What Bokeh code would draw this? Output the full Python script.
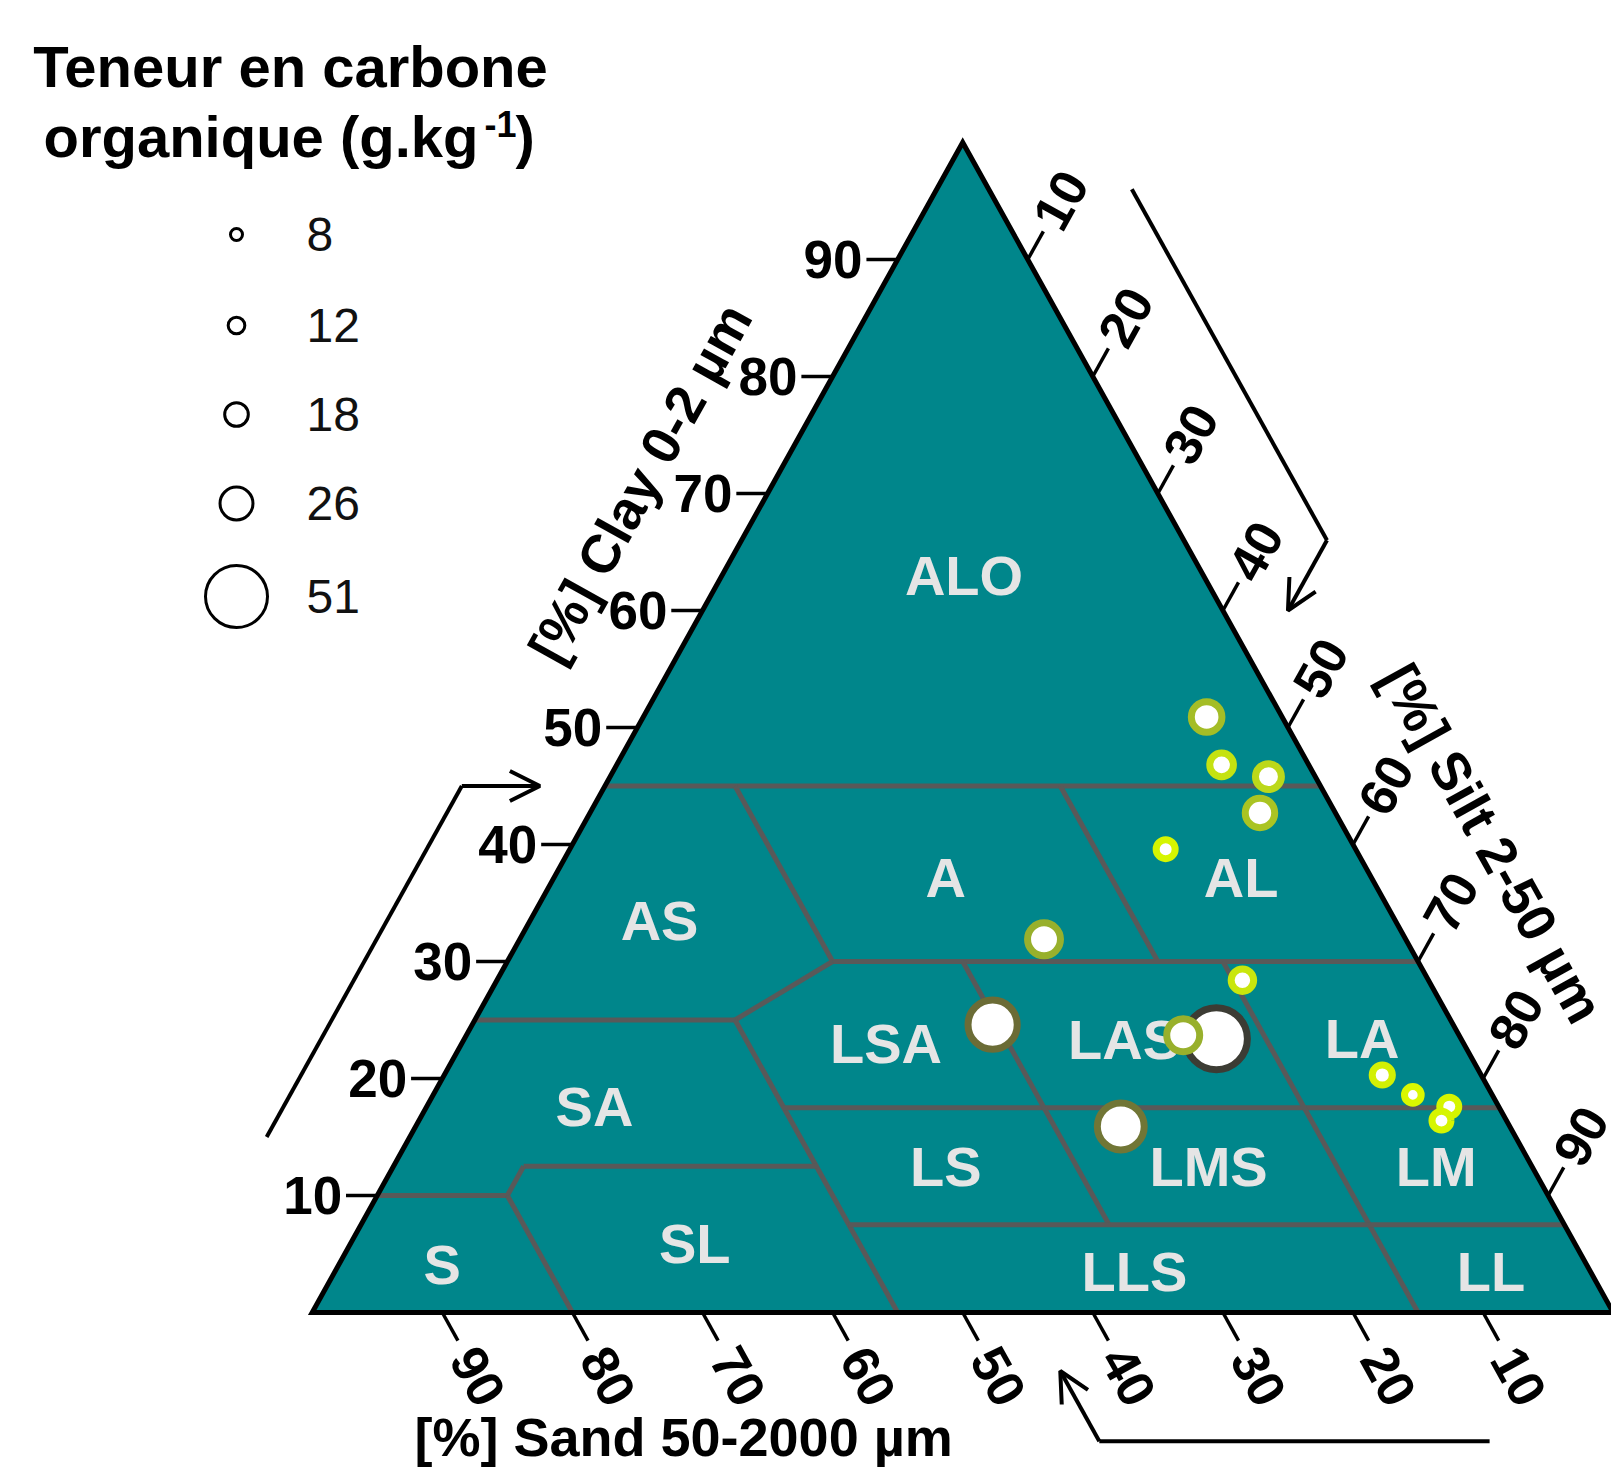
import math
from bokeh.plotting import figure
from bokeh.models import Range1d, ColumnDataSource, Arrow, OpenHead, LinearColorMapper
from bokeh.transform import transform
from bokeh.core.properties import value
from bokeh.embed import file_html
from bokeh.resources import INLINE

# ---- samples: particle-size fractions (%) and organic carbon (g/kg) ----
clay = [50.9, 46.8, 45.8, 42.7, 39.6, 31.9, 28.4, 24.6, 23.4, 23.7, 15.9, 20.3, 18.6, 17.6, 16.4]
silt = [43.3, 46.5, 50.6, 51.5, 45.8, 40.3, 57.3, 40.0, 57.8, 55.1, 54.2, 72.1, 75.3, 78.6, 78.6]
sand = [5.8, 6.7, 3.6, 5.8, 14.6, 27.8, 14.3, 35.4, 18.8, 21.2, 29.9, 7.6, 6.1, 3.8, 5.0]
carbon = [24, 18, 20, 23, 14, 26, 17, 40, 51, 26, 38, 15, 12, 14, 14]

legend_values = [8, 12, 18, 26, 51]
tick_values = [10, 20, 30, 40, 50, 60, 70, 80, 90]

# ---- Aisne texture classes: boundary segments as (clay, sand) end points ----
class_segments = [
    ((45, 55), (45, 0)),
    ((45, 45), (30, 45)),
    ((45, 20), (30, 20)),
    ((30, 45), (30, 0)),
    ((30, 45), (25, 55)),
    ((25, 75), (25, 55)),
    ((25, 55), (0, 55)),
    ((17.5, 55), (17.5, 0)),
    ((30, 35), (7.5, 35)),
    ((30, 15), (0, 15)),
    ((12.5, 77.5), (12.5, 55)),
    ((10, 80), (12.5, 77.5)),
    ((10, 90), (10, 80)),
    ((10, 80), (0, 80)),
    ((7.5, 55), (7.5, 0)),
]
class_names = ["ALO", "A", "AL", "AS", "LSA", "LAS", "LA", "SA", "LS", "LMS", "LM", "S", "SL", "LLS", "LL"]
# label anchors as (clay, silt)
class_anchor = [(63.0, 18.6), (37.2, 30.1), (37.2, 52.8), (33.5, 9.95), (23.0, 32.6),
                (23.3, 50.75), (23.4, 69.0), (17.6, 12.9), (12.5, 42.45), (12.5, 62.65),
                (12.5, 80.15), (4.1, 7.95), (5.9, 26.45), (3.5, 61.45), (3.5, 88.85)]

# ---- canvas geometry ----
W, H = 1611, 1472
X0_PX, Y0_PX = 311.7, 1312.0     # screen position of the 100 % sand corner
SX, SY = 13.01, 11.70            # pixels per unit along X and Y


def px_x(px):
    return (px - X0_PX) / SX


def px_y(py):
    return (Y0_PX - py) / SY


def tern(c, s):
    """(clay, silt) -> plot coordinates"""
    return s + c / 2.0, c


def tern_cs(c, sa):
    """(clay, sand) -> plot coordinates"""
    return tern(c, 100.0 - c - sa)


ANG = math.atan2(SY, SX * 0.5)    # slope of the triangle sides on screen
FONT = value("Liberation Sans")

p = figure(width=W, height=H, x_range=Range1d(px_x(0), px_x(W)),
           y_range=Range1d(px_y(H), px_y(0)), output_backend="svg",
           toolbar_location=None, min_border=0, outline_line_color=None)
p.axis.visible = False
p.grid.visible = False
p.background_fill_color = "white"
p.border_fill_color = "white"

# triangle body
p.patch([0, 100, 50], [0, 0, 100], fill_color="#00868B", line_color=None)

# class boundaries
xs, ys = [], []
for a, b in class_segments:
    xa, ya = tern_cs(*a)
    xb, yb = tern_cs(*b)
    xs.append([xa, xb])
    ys.append([ya, yb])
p.multi_line(xs, ys, line_color="#595959", line_width=5)

# triangle outline
p.patch([0, 100, 50], [0, 0, 100], fill_color=None, line_color="black",
        line_width=5, line_join="miter")

# class labels
lx, ly = zip(*[tern(c, s) for c, s in class_anchor])
p.text(list(lx), list(ly), text=class_names, text_font=FONT, text_font_size="56px",
       text_font_style="bold", text_color="#E5E5E5", text_align="center",
       text_baseline="middle")

# ---- samples ----
anchors = ["#E2FF00", "#D6F500", "#BCD81A", "#98B02C", "#7E8A36", "#6B6C36", "#3C3C34"]
anchor_v = [8, 14, 20, 26, 34, 40, 51]


def _hex(c):
    return [int(c[i:i + 2], 16) for i in (1, 3, 5)]


palette = []
for v in range(8, 52):
    for i in range(len(anchor_v) - 1):
        if anchor_v[i] <= v <= anchor_v[i + 1]:
            t = (v - anchor_v[i]) / (anchor_v[i + 1] - anchor_v[i])
            a, b = _hex(anchors[i]), _hex(anchors[i + 1])
            palette.append("#%02x%02x%02x" % tuple(round(a[k] + (b[k] - a[k]) * t) for k in range(3)))
            break
mapper = LinearColorMapper(palette=palette, low=8, high=51)


def bubble(v):
    return 2.7 + 1.163 * v


px_pts = [tern(c, s)[0] for c, s in zip(clay, silt)]
src = ColumnDataSource(dict(x=px_pts, y=clay, carbon=carbon,
                            size=[bubble(v) for v in carbon]))
p.scatter("x", "y", source=src, size="size", fill_color="white",
          line_color=transform("carbon", mapper), line_width=7)

# ---- ticks and tick labels ----
TL = 2.4
tick_x, tick_y = [], []
for v in tick_values:
    # clay (left side)
    x, y = tern(v, 0)
    tick_x.append([x, x - TL]); tick_y.append([y, y])
    # silt (right side)
    x, y = tern(100 - v, v)
    tick_x.append([x, x + TL / 2]); tick_y.append([y, y + TL])
    # sand (bottom)
    x, y = tern_cs(0, v)
    tick_x.append([x, x + TL / 2]); tick_y.append([y, y - TL])
p.multi_line(tick_x, tick_y, line_color="black", line_width=3.5)

lab = [str(v) for v in tick_values]
cx = [tern(v, 0)[0] - TL - 0.3 for v in tick_values]
cy = [float(v) for v in tick_values]
p.text(cx, cy, text=lab, text_font=FONT, text_font_size="53px", text_font_style="bold",
       text_color="black", text_align="right", text_baseline="middle")

D = TL + 0.5
sx_ = [tern(100 - v, v)[0] + D / 2 for v in tick_values]
sy_ = [tern(100 - v, v)[1] + D for v in tick_values]
p.text(sx_, sy_, text=lab, text_font=FONT, text_font_size="52px", text_font_style="bold",
       text_color="black", text_align="left", text_baseline="middle", angle=ANG)

D2 = TL + 0.9
bx = [tern_cs(0, v)[0] + D2 / 2 for v in tick_values]
by = [-D2 for v in tick_values]
p.text(bx, by, text=lab, text_font=FONT, text_font_size="52px", text_font_style="bold",
       text_color="black", text_align="left", text_baseline="middle", angle=-ANG)

# ---- axis titles ----
p.text([25.2], [70.9], text=["[%] Clay 0-2 \u00b5m"], text_font=FONT, text_font_size="54px",
       text_font_style="bold", text_align="center", text_baseline="middle", angle=ANG)
p.text([90.7], [40.1], text=["[%] Silt 2-50 \u00b5m"], text_font=FONT, text_font_size="54px",
       text_font_style="bold", text_align="center", text_baseline="middle", angle=-ANG)
p.text([28.55], [-10.6], text=["[%] Sand 50-2000 \u00b5m"], text_font=FONT, text_font_size="54px",
       text_font_style="bold", text_align="center", text_baseline="middle")

# ---- direction arrows ----
OFF, A0, A1, TIP = -11, 15, 45, -5
arrows = [
    [tern(A0, OFF), tern(A1, OFF), tern(A1, TIP)],                               # clay
    [tern(100 - A0 - OFF, A0), tern(100 - A1 - OFF, A1), tern(100 - A1 - TIP, A1)],  # silt
    [tern(OFF, 100 - A0 - OFF), tern(OFF, 100 - A1 - OFF), tern(TIP, 100 - A1 - TIP)],  # sand
]
for pts in arrows:
    p.line([pts[0][0], pts[1][0]], [pts[0][1], pts[1][1]], line_color="black", line_width=4)
    p.add_layout(Arrow(end=OpenHead(size=30, line_width=4, line_color="black"),
                       x_start=pts[1][0], y_start=pts[1][1], x_end=pts[2][0], y_end=pts[2][1],
                       line_width=4, line_color="black"))

# ---- size legend ----
p.text([px_x(290)], [px_y(66)], text=["Teneur en carbone"], text_font=FONT,
       text_font_size="58px", text_font_style="bold", text_align="center",
       text_baseline="alphabetic")
p.text([px_x(43)], [px_y(136)], text=["organique (g.kg"], text_font=FONT,
       text_font_size="58px", text_font_style="bold", text_align="left",
       text_baseline="alphabetic")
p.text([px_x(484)], [px_y(123)], text=["-1"], text_font=FONT,
       text_font_size="36px", text_font_style="bold", text_align="left",
       text_baseline="alphabetic")
p.text([px_x(515)], [px_y(136)], text=[")"], text_font=FONT,
       text_font_size="58px", text_font_style="bold", text_align="left",
       text_baseline="alphabetic")

leg_y = [px_y(py) for py in (234, 325, 414, 503, 596)]
p.scatter([px_x(236)] * 5, leg_y, size=[bubble(v) for v in legend_values],
          fill_color=None, line_color="black", line_width=3)
p.text([px_x(306)] * 5, leg_y, text=[str(v) for v in legend_values], text_font=FONT,
       text_font_size="48px", text_color="#111111", text_align="left", text_baseline="middle")

open("out.html", "w").write(file_html(p, INLINE))
